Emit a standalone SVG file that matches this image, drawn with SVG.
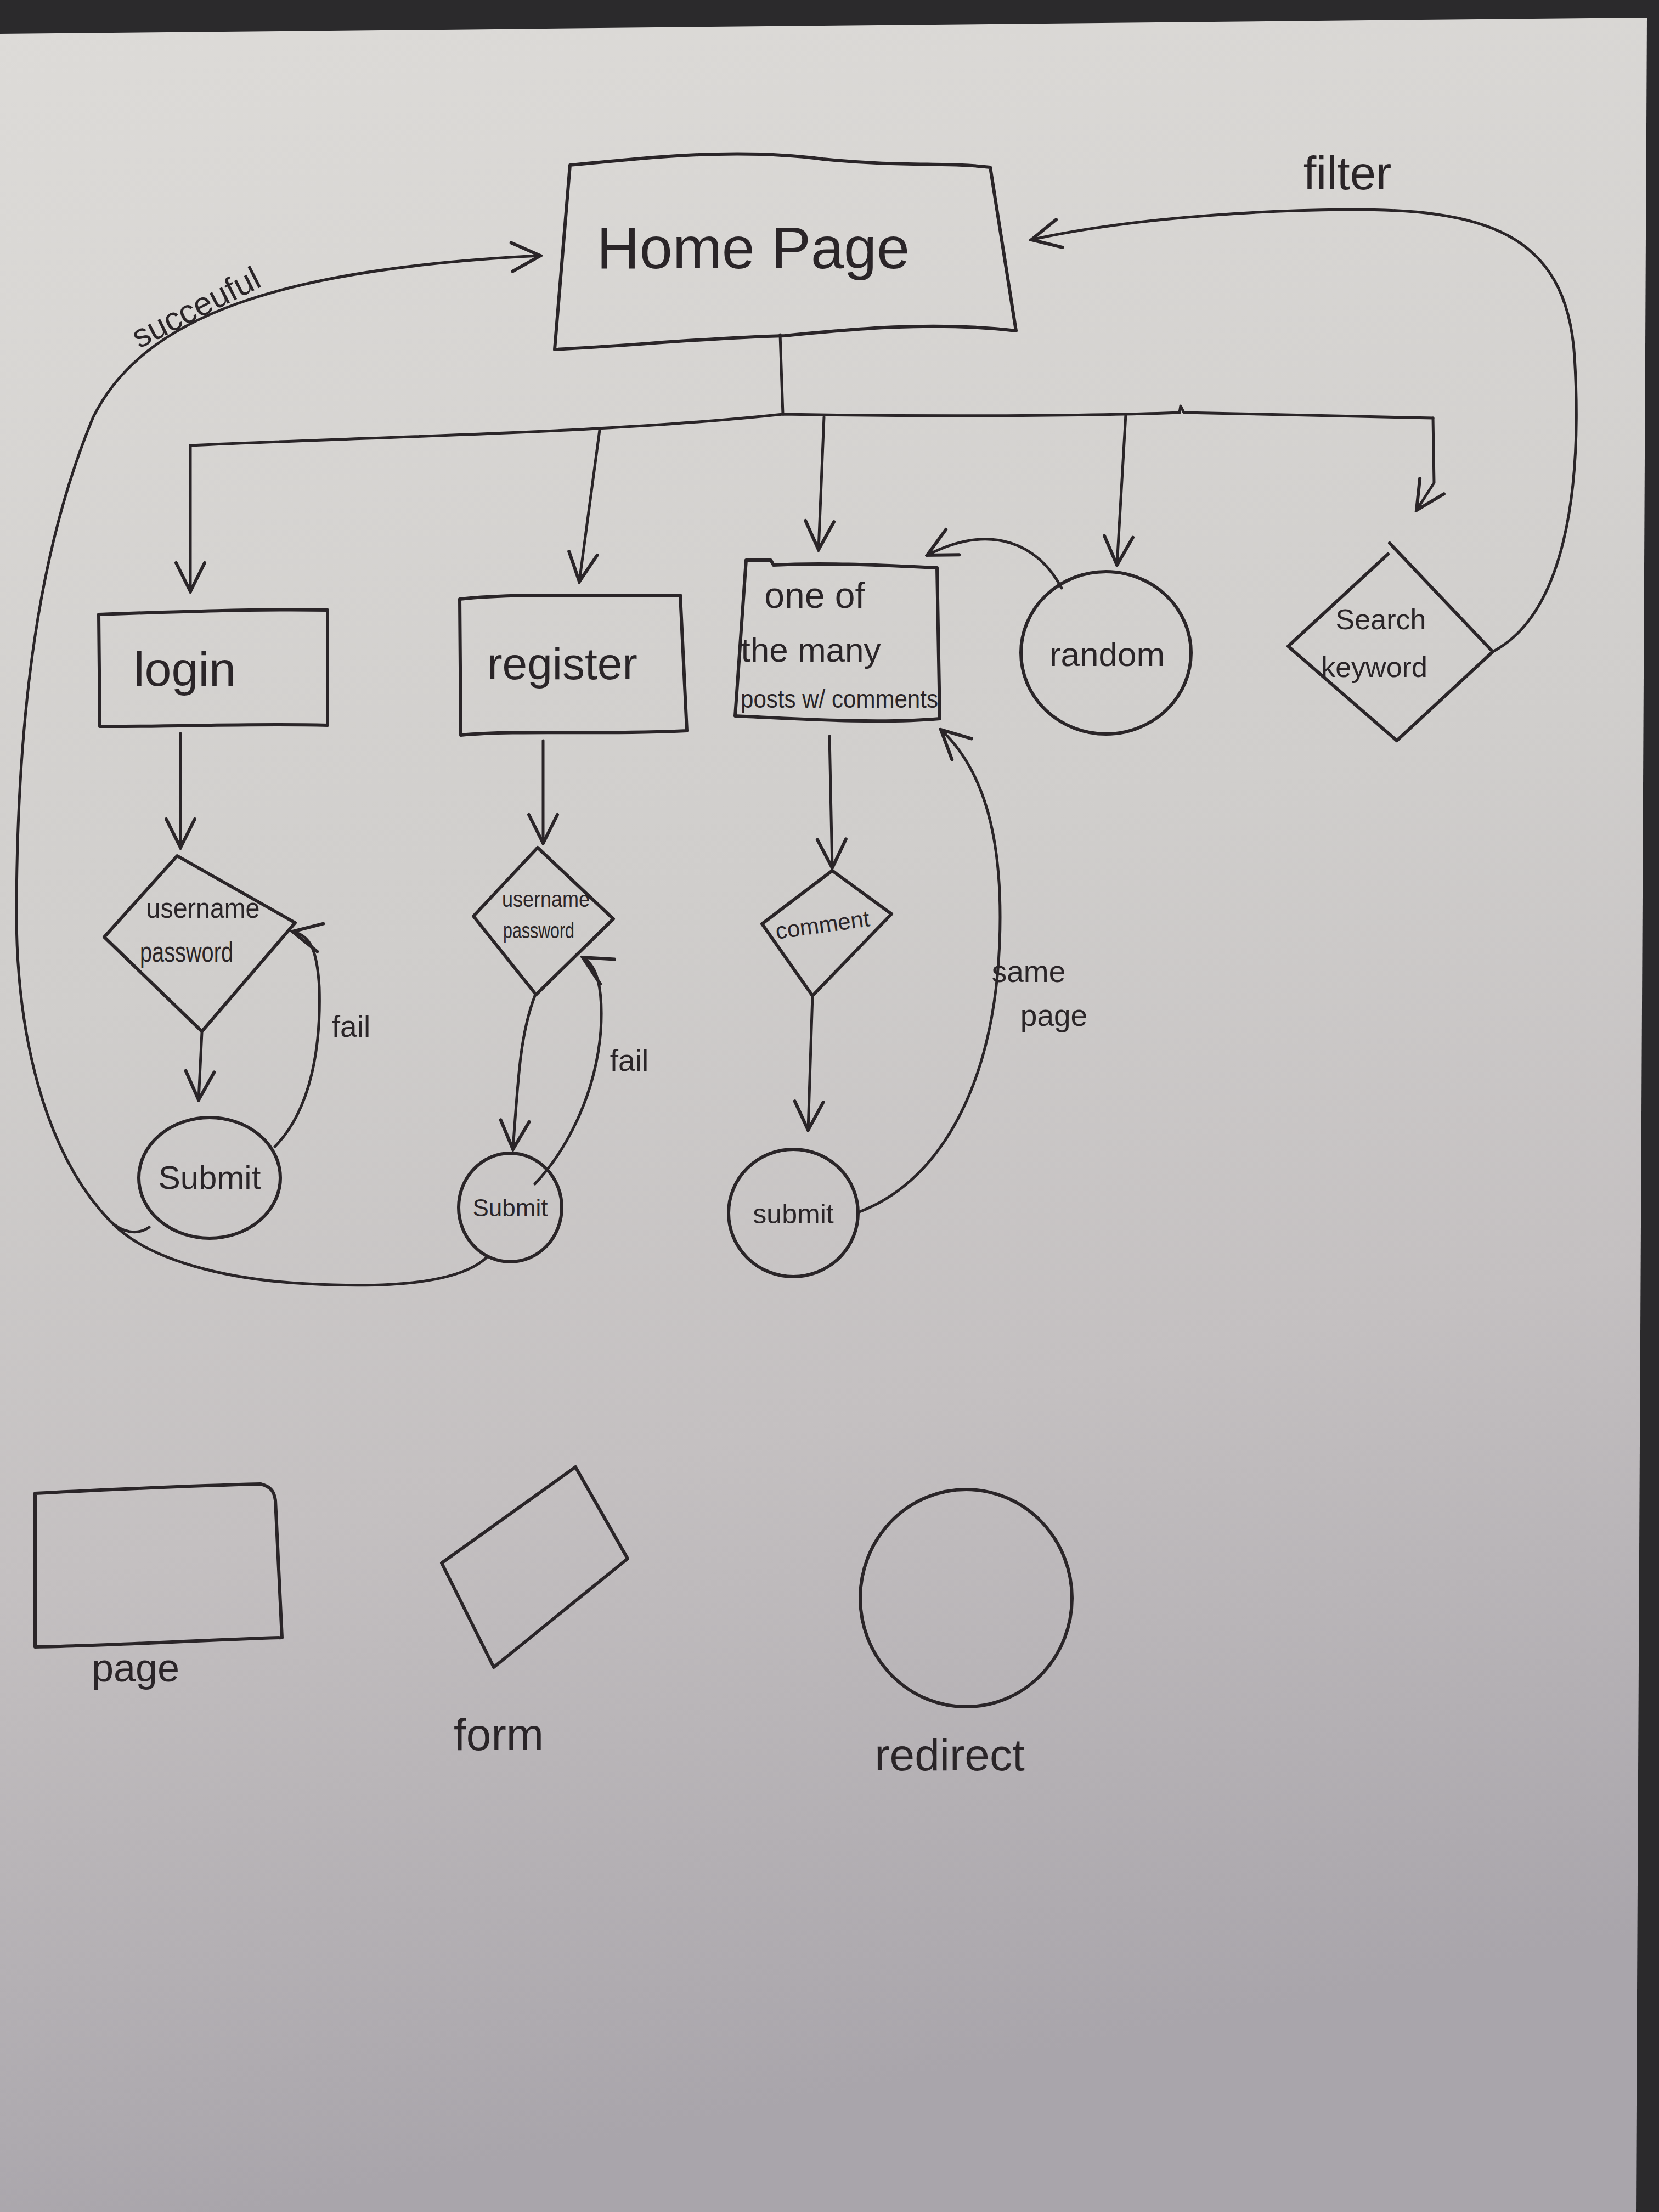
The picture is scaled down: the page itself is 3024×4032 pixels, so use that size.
<svg xmlns="http://www.w3.org/2000/svg" width="3024" height="4032" viewBox="0 0 3024 4032">
<defs>
<linearGradient id="paper" x1="0" y1="0" x2="0.15" y2="1">
<stop offset="0" stop-color="#dddbd8"/>
<stop offset="0.45" stop-color="#d0cecc"/>
<stop offset="0.7" stop-color="#c4c0c1"/>
<stop offset="1" stop-color="#a9a5ab"/>
</linearGradient>
<marker id="arrL" viewBox="0 0 60 60" refX="56" refY="30" markerWidth="60" markerHeight="60" markerUnits="userSpaceOnUse" orient="auto">
<path d="M4,4 L56,30 L4,56" fill="none" stroke="#2a2528" stroke-width="6" stroke-linecap="round"/>
</marker>
<style>
.s{fill:none;stroke:#2a2528;stroke-width:6;stroke-linecap:round;stroke-linejoin:round}
.c{fill:none;stroke:#2a2528;stroke-width:5;stroke-linecap:round;stroke-linejoin:round;marker-end:url(#arrL)}
.cn{fill:none;stroke:#2a2528;stroke-width:5;stroke-linecap:round;stroke-linejoin:round}
.t{font-family:"Liberation Sans","DejaVu Sans",sans-serif;fill:#2a2528;text-anchor:middle}
</style>
</defs>
<rect x="0" y="0" width="3024" height="4032" fill="#2b2a2c"/>
<polygon points="0,62 3002,32 2982,4032 0,4032" fill="url(#paper)"/>

<g id="connectors">
<path class="cn" d="M1422,610 L1427,755"/>
<path class="cn" d="M347,812 C700,795 1100,790 1427,755 C1700,760 2000,758 2150,752 L2152,740 L2158,752 C2350,756 2500,760 2612,762"/>
<path class="c" d="M347,812 L347,1078"/>
<path class="c" d="M1093,784 L1056,1060"/>
<path class="c" d="M1502,760 L1492,1002"/>
<path class="c" d="M2052,756 L2036,1030"/>
<path class="c" d="M2612,762 L2614,880 L2582,930"/>
<path class="c" d="M1935,1072 C1895,995 1810,950 1690,1012"/>
<path class="c" d="M2721,1188 C2850,1120 2885,900 2870,650 C2855,420 2700,380 2450,382 C2200,385 2000,410 1880,437"/>
<path class="c" d="M329,1337 L329,1545"/>
<path class="c" d="M368,1882 L362,2005"/>
<path class="c" d="M501,2090 C570,2020 585,1900 582,1800 C578,1730 565,1705 533,1698"/>
<path class="c" d="M889,2290 C830,2350 650,2345 560,2340 C420,2333 270,2300 200,2225 C80,2100 28,1880 30,1650 C32,1300 70,1000 170,760 C260,580 500,490 985,466"/>
<path class="cn" d="M272,2237 C250,2252 222,2247 200,2225"/>
<path class="c" d="M990,1350 L990,1537"/>
<path class="c" d="M975,1815 C950,1880 945,1950 935,2095"/>
<path class="c" d="M975,2158 C1030,2100 1085,2000 1095,1880 C1100,1800 1088,1760 1062,1745"/>
<path class="c" d="M1512,1342 L1517,1582"/>
<path class="c" d="M1481,1815 L1473,2060"/>
<path class="c" d="M1564,2210 C1700,2160 1810,2000 1822,1720 C1830,1520 1790,1400 1715,1330"/>
</g>

<g id="home">
<path class="s" d="M1039,301 C1200,285 1350,270 1500,290 C1650,305 1720,295 1805,305 L1852,603 C1700,585 1550,600 1430,612 C1300,615 1150,630 1011,637 Z"/>
<text class="t" x="1373" y="489" font-size="108">Home Page</text>
</g>

<g id="login">
<path class="s" d="M180,1120 C320,1115 450,1110 597,1112 L597,1322 C450,1318 320,1325 182,1324 Z"/>
<text class="t" x="337" y="1250" font-size="88">login</text>
</g>

<g id="register">
<path class="s" d="M838,1092 C950,1080 1100,1088 1240,1085 L1252,1332 C1100,1340 950,1330 840,1340 Z"/>
<text class="t" x="1025" y="1238" font-size="82">register</text>
</g>

<g id="posts">
<path class="s" d="M1360,1021 L1405,1021 L1410,1030 C1500,1025 1600,1030 1708,1035 L1713,1310 C1600,1320 1450,1310 1340,1305 Z"/>
<text class="t" x="1485" y="1108" font-size="66">one of</text>
<text class="t" x="1478" y="1206" font-size="62">the many</text>
<text class="t" x="1530" y="1290" font-size="46" textLength="360" lengthAdjust="spacingAndGlyphs">posts w/ comments</text>
</g>

<g id="random">
<ellipse class="s" cx="2016" cy="1190" rx="155" ry="148"/>
<text class="t" x="2018" y="1214" font-size="62">random</text>
</g>

<g id="search">
<path class="s" d="M2533,990 L2721,1188 L2546,1350 L2348,1178 L2530,1010"/>
<text class="t" x="2517" y="1147" font-size="52">Search</text>
<text class="t" x="2505" y="1234" font-size="52">keyword</text>
</g>

<g id="login-form">
<path class="s" d="M323,1560 L538,1682 L368,1880 L190,1708 Z"/>
<text class="t" x="370" y="1673" font-size="52" textLength="207" lengthAdjust="spacingAndGlyphs">username</text>
<text class="t" x="340" y="1753" font-size="52" textLength="170" lengthAdjust="spacingAndGlyphs">password</text>
</g>

<g id="login-submit">
<ellipse class="s" cx="382" cy="2147" rx="129" ry="110"/>
<text class="t" x="382" y="2167" font-size="60">Submit</text>
</g>

<g id="register-form">
<path class="s" d="M980,1545 L1118,1675 L977,1813 L863,1670 Z"/>
<text class="t" x="995" y="1653" font-size="40" textLength="160" lengthAdjust="spacingAndGlyphs">username</text>
<text class="t" x="982" y="1710" font-size="40" textLength="130" lengthAdjust="spacingAndGlyphs">password</text>
</g>

<g id="register-submit">
<ellipse class="s" cx="930" cy="2201" rx="94" ry="99"/>
<text class="t" x="930" y="2217" font-size="44">Submit</text>
</g>

<g id="comment-form">
<path class="s" d="M1517,1587 L1625,1666 L1481,1815 L1389,1684 Z"/>
<text class="t" x="1500" y="1700" font-size="42" transform="rotate(-8 1500 1690)">comment</text>
</g>

<g id="posts-submit">
<ellipse class="s" cx="1446" cy="2211" rx="118" ry="116"/>
<text class="t" x="1446" y="2230" font-size="50">submit</text>
</g>

<g id="labels">
<text class="t" x="360" y="580" font-size="60" transform="rotate(-27 360 566)">succeuful</text>
<text class="t" x="2456" y="345" font-size="85">filter</text>
<text class="t" x="640" y="1890" font-size="55">fail</text>
<text class="t" x="1147" y="1952" font-size="55">fail</text>
<text class="t" x="1875" y="1790" font-size="55">same</text>
<text class="t" x="1921" y="1870" font-size="55">page</text>
</g>

<g id="legend-page">
<path class="s" d="M64,2722 C200,2715 350,2708 475,2705 C495,2710 500,2720 502,2735 L514,2985 C350,2990 200,3000 64,3002 Z"/>
<text class="t" x="247" y="3065" font-size="72">page</text>
</g>

<g id="legend-form">
<path class="s" d="M805,2849 L1049,2674 L1144,2841 L900,3039 Z"/>
<text class="t" x="909" y="3190" font-size="82">form</text>
</g>

<g id="legend-redirect">
<ellipse class="s" cx="1761" cy="2913" rx="193" ry="198"/>
<text class="t" x="1731" y="3227" font-size="82">redirect</text>
</g>
</svg>
